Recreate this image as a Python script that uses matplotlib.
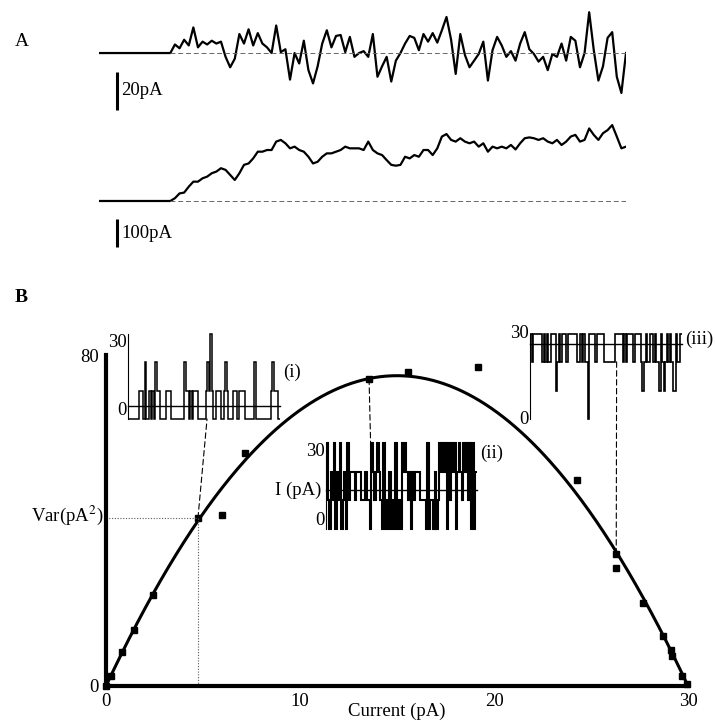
import numpy as np
import matplotlib.pyplot as plt
from matplotlib.patches import ConnectionPatch

plt.rcParams['font.family'] = ['Liberation Serif', 'DejaVu Serif']
plt.rcParams['mathtext.fontset'] = 'stix'

W, H = 715, 723

## Panel A: current after agonist onset, one sample per ms
t_on = 15.5
noise_pA = [0, 4.5, 2.5, 7, 4, 13.5, 3, 6, 4.5, 6.5,
            5, 6, -2, -7.5, -3, 10, 5, 12.5, 4, 10.5,
            5, 3, 0, 14.5, 0.5, 2, -14, 0, -5.5, 6.5,
            -9, -16, -7, 5, 12, 3, 9, 9.5, 0.5, 8.5,
            -2, 0, 1, -2, 10, -12.5, -7, -2, -15, -4,
            0, 5, 9, 8, 1.5, 10, 6, 10.5, 5.5, 12,
            19, 7, -11, 10, -1, -7.5, -4, -0.5, 6, -14.5,
            1.5, 8.5, 4, -2, 1, -4, 5, 11, 2, -0.5,
            -4.5, -2, -9, -0.5, -2, 5, -4, 8.5, 6.5, -7.5,
            0, 21.5, 1.5, -14.5, -7, 8, 11, -12.5, -21, 0]
current_pA = [0, 10, 27, 30, 51, 69, 69, 81, 87, 99,
              105, 117, 111, 93, 75, 99, 129, 134, 152, 176,
              176, 182, 182, 212, 218, 206, 188, 194, 182, 176,
              158, 134, 140, 158, 170, 170, 176, 182, 194, 188,
              188, 188, 182, 212, 182, 170, 164, 146, 129, 126,
              129, 158, 152, 164, 158, 182, 182, 164, 188, 230,
              239, 218, 212, 224, 212, 206, 212, 194, 206, 176,
              194, 188, 194, 188, 200, 184, 206, 224, 227, 224,
              218, 224, 212, 206, 218, 200, 212, 230, 236, 212,
              218, 259, 236, 218, 242, 253, 271, 230, 188, 194]
bar_small = 20
bar_large = 100

## Panel B: variance vs mean current
i_unit = 10.0   # single channel current (pA)
n_chan = 3
mean_I = [0.0, 0.26, 0.84, 1.45, 2.4, 4.74, 6.0, 7.16, 13.56, 15.57,
          19.2, 24.3, 26.3, 26.3, 27.7, 28.7, 29.1, 29.15, 29.7, 29.95]
var_I = [0.0, 2.4, 8.2, 13.5, 22.0, 40.6, 41.3, 56.3, 74.2, 75.8,
         77.0, 49.8, 31.9, 28.5, 20.0, 12.0, 8.7, 7.2, 2.4, 0.5]

# open channels per time bin for the three example records
trace_i = ("0000000" "111" "0" "2" "00" "1010211" "0000" "111" "000000000"
           "2" "1101" "0" "111" "00000" "12131" "00" "111" "00" "121" "000"
           "11101111" "000000" "2" "0000000000" "121110")
trace_ii = ("31021302130120312" "221222" "111211" "03" "212321"
            "0301020103010" "32321" "20212221" "11103011" "0201"
            "3232303132302" "321323130302")
trace_iii = ("32" "333333" "232322" "333" "1" "232" "3332333333" "2232322"
             "0" "333323333" "322222223" "3333" "232" "333323333" "212322"
             "33" "2322" "13" "2123" "2321" "13" "223")
ex_I = [4.74, 13.56, 26.3]
ex_var = [40.6, 74.2, 31.9]
ex_names = ["(i)", "(ii)", "(iii)"]


def px_axes(fig, x0, y0, x1, y1):
    return fig.add_axes([x0 / W, 1 - y1 / H, (x1 - x0) / W, (y1 - y0) / H])


fig = plt.figure(figsize=(W / 100, H / 100), dpi=100)
fs = 13.5

fig.text(15 / W, 1 - 42 / H, "A", fontsize=14, va='center')
fig.text(15 / W, 1 - 298 / H, "B", fontsize=14, va='center', fontweight='bold')

# --- A: two traces with scale bars
for rect, data, ylim, bar, lab in [
        ((99, 5, 626, 112), noise_pA, (-31.05, 25.3), bar_small, "20pA"),
        ((99, 115, 626, 250), current_pA, (-175, 307), bar_large, "100pA")]:
    ax = px_axes(fig, *rect)
    t = t_on + np.arange(len(data))
    ax.plot(np.r_[0, t], np.r_[0, data], color='k', lw=1.6)
    ax.plot([t_on, t[-1]], [0, 0], color='0.4', lw=0.7, ls=(0, (5, 3)))
    ybar = ylim[0] + 0.02 * (ylim[1] - ylim[0])
    ax.plot([4, 4], [ybar, ybar + bar], color='k', lw=2.2, solid_capstyle='butt')
    ax.text(4.8, ybar + bar / 2, lab, fontsize=fs, va='center', ha='left')
    ax.set_xlim(0, t[-1])
    ax.set_ylim(*ylim)
    ax.axis('off')

# --- B: variance-mean plot
ax = px_axes(fig, 106, 355, 688, 686)
I = np.linspace(0, n_chan * i_unit, 300)
ax.plot(I, i_unit * I - I ** 2 / n_chan, color='k', lw=2.2)
ax.plot(mean_I, var_I, 's', color='k', ms=4.5, clip_on=False)
ax.set_xlim(0, 30)
ax.set_ylim(0, 80)
for s in ['top', 'right']:
    ax.spines[s].set_visible(False)
for s in ['left', 'bottom']:
    ax.spines[s].set_linewidth(3)
ax.set_xticks([0, 10, 20, 30])
ax.set_yticks([0, 80])
ax.tick_params(length=0, labelsize=fs)
ax.tick_params(axis='x', pad=5)
ax.tick_params(axis='y', pad=5)
ax.set_xlabel("Current (pA)", fontsize=fs, labelpad=-5)

ax.plot([0, ex_I[0]], [ex_var[0], ex_var[0]], color='0.35', lw=0.8, ls=(0, (1, 1.5)))
ax.plot([ex_I[0], ex_I[0]], [0, ex_var[0]], color='0.35', lw=0.8, ls=(0, (1, 1.5)))
ax.annotate(r"Var(pA$^2$)", xy=(0, ex_var[0]), xytext=(-2, 2), textcoords='offset points',
            ha='right', va='center', fontsize=fs, annotation_clip=False)

# --- insets with the example records
inset_rects = [(128, 334, 280, 419), (326, 443, 477, 529), (530, 334, 682, 419)]
traces = [trace_i, trace_ii, trace_iii]
trace_lw = [1.1, 1.5, 1.2]
link_pts = [(0.52, 0.0), (0.30, 0.66), (0.57, 0.69)]
name_y = [16.6, 26.5, 28.0]
for k in range(3):
    axi = px_axes(fig, *inset_rects[k])
    lev = np.array([int(c) for c in traces[k]]) * i_unit
    axi.stairs(lev, np.arange(len(lev) + 1), baseline=None, color='k',
               lw=trace_lw[k], clip_on=False)
    axi.axhline(ex_I[k], color='k', lw=1.0, clip_on=False)
    axi.set_xlim(0, len(lev))
    axi.set_ylim(0, 30)
    for s in ['top', 'right', 'bottom']:
        axi.spines[s].set_visible(False)
    axi.spines['left'].set_linewidth(0.8)
    axi.set_xticks([])
    axi.set_yticks([])
    axi.patch.set_alpha(0)
    tr = axi.get_yaxis_transform()
    if k == 2:
        va0, va30 = 'center', 'center'
    else:
        va0, va30 = 'bottom', 'top'
    axi.text(-0.01, 0, "0", transform=tr, ha='right', va=va0, fontsize=fs)
    axi.text(-0.01, 30, "30", transform=tr, ha='right', va=va30, fontsize=fs)
    axi.text(1.02, name_y[k], ex_names[k], transform=tr, ha='left', va='center', fontsize=fs)
    if k == 1:
        axi.text(-0.03, ex_I[k], "I (pA)", transform=tr, ha='right', va='center', fontsize=fs)
    con = ConnectionPatch(xyA=(ex_I[k], ex_var[k]), coordsA=ax.transData,
                          xyB=link_pts[k], coordsB=axi.transAxes,
                          color='k', lw=0.8, ls=(0, (5, 3)))
    fig.add_artist(con)

fig.savefig("out.png", dpi=100)
